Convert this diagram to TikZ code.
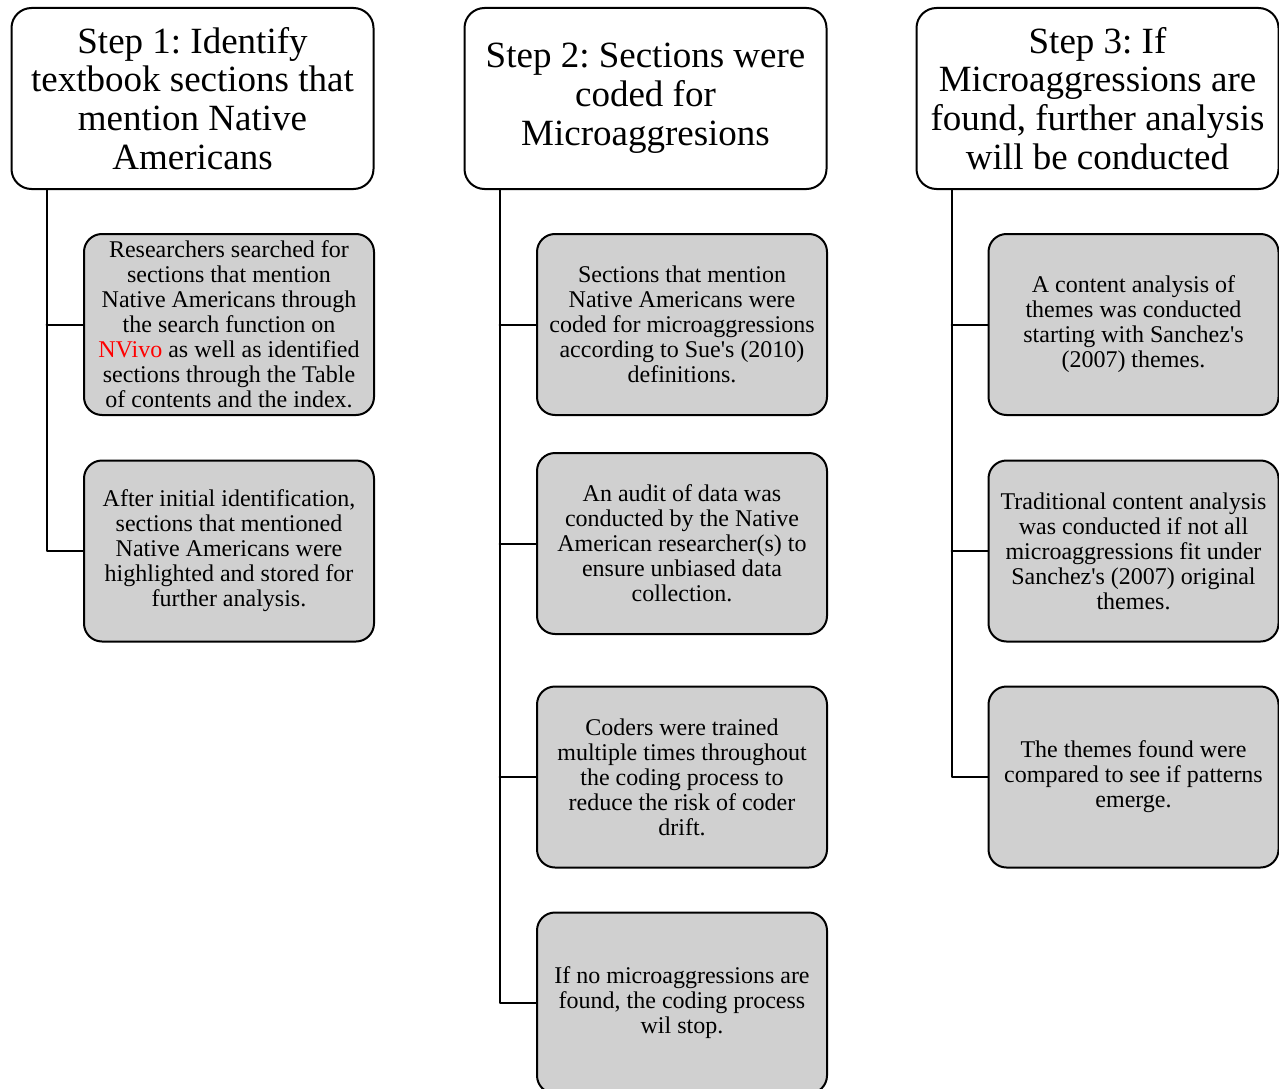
\documentclass[tikz,border=0pt]{standalone}
\usepackage{fontspec}
\setmainfont{Liberation Serif}
\usetikzlibrary{positioning}
\definecolor{boxgray}{HTML}{D0D0D0}
\frenchspacing
\tikzset{
  head/.style={draw, line width=2pt, rounded corners=20pt, fill=white,
    minimum width=362pt, minimum height=181pt, inner sep=0pt, align=center,
    font=\fontsize{37}{38.8}\selectfont},
  sub/.style={draw, line width=2pt, rounded corners=18pt, fill=boxgray,
    minimum width=290pt, minimum height=181pt, inner sep=0pt, align=center,
    font=\fontsize{24}{25}\selectfont},
  link/.style={line width=2pt}
}
\begin{document}
\begin{tikzpicture}[x=1pt, y=-1pt, line join=round, line cap=round]
\useasboundingbox (0,0) rectangle (1279,1089);
% step headers
\node[head] (h1) at (192.5,98.5) {Step 1: Identify\\textbook sections that\\mention Native\\Americans};
\node[head] (h2) at (645.5,98.5) {Step 2: Sections were\\coded for\\Microaggresions};
\node[head] (h3) at (1097.5,98.5) {Step 3: If\\Microaggressions are\\found, further analysis\\will be conducted};
% step 1
\node[sub] (b11) at (229,324.5) {Researchers searched for\\sections that mention\\Native Americans through\\the search function on\\\textcolor{red}{NVivo} as well as identified\\sections through the Table\\of contents and the index.};
\node[sub] (b12) at (229,551) {After initial identification,\\sections that mentioned\\Native Americans were\\highlighted and stored for\\further analysis.};
% step 2
\node[sub] (b21) at (682,324.5) {Sections that mention\\Native Americans were\\coded for microaggressions\\according to Sue\textquotesingle s (2010)\\definitions.};
\node[sub] (b22) at (682,543.5) {An audit of data was\\conducted by the Native\\American researcher(s) to\\ensure unbiased data\\collection.};
\node[sub] (b23) at (682,777) {Coders were trained\\multiple times throughout\\the coding process to\\reduce the risk of coder\\drift.};
\node[sub] (b24) at (682,1003) {If no microaggressions are\\found, the coding process\\wil stop.};
% step 3
\node[sub] (b31) at (1133.5,324.5) {A content analysis of\\themes was conducted\\starting with Sanchez\textquotesingle s\\(2007) themes.};
\node[sub] (b32) at (1133.5,551) {Traditional content analysis\\was conducted if not all\\microaggressions fit under\\Sanchez\textquotesingle s (2007) original\\themes.};
\node[sub] (b33) at (1133.5,777) {The themes found were\\compared to see if patterns\\emerge.};
% connectors
\coordinate (t1) at ([xshift=36pt]h1.south west);
\coordinate (t2) at ([xshift=36pt]h2.south west);
\coordinate (t3) at ([xshift=36pt]h3.south west);
\draw[link] (t1) |- (b12.west);
\draw[link] (t2) |- (b24.west);
\draw[link] (t3) |- (b33.west);
\foreach \b in {b11} \draw[link] (t1 |- \b.west) -- (\b.west);
\foreach \b in {b21,b22,b23} \draw[link] (t2 |- \b.west) -- (\b.west);
\foreach \b in {b31,b32} \draw[link] (t3 |- \b.west) -- (\b.west);
\end{tikzpicture}
\end{document}
